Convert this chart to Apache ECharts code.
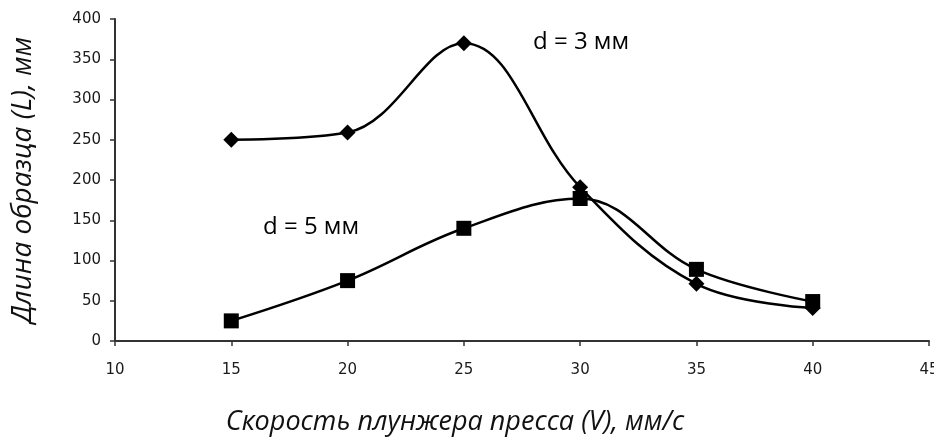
<!DOCTYPE html>
<html>
<head>
<meta charset="utf-8">
<script src="https://cdn.jsdelivr.net/npm/echarts@6/dist/echarts.min.js"></script>
<style>
  html, body { margin: 0; padding: 0; background: #fff; }
  #chart { width: 934px; height: 437px; }
</style>
</head>
<body>
<div id="chart"></div>
<script>
// Plunger speed, mm/s
const speeds = [15, 20, 25, 30, 35, 40];
// Specimen length, mm, for two diameters
const lengthD3 = [250, 259, 370, 191, 71, 41];
const lengthD5 = [25, 75, 140, 177, 89, 49];
const xTicks = [10, 15, 20, 25, 30, 35, 40, 45];
const yTicks = [0, 50, 100, 150, 200, 250, 300, 350, 400];

const seriesLabels = ['d = 3 мм', 'd = 5 мм'];
const xTitle = 'Скорость плунжера пресса (V), мм/с';
const yTitle = 'Длина образца (L), мм';

const chart = echarts.init(document.getElementById('chart'), null, { renderer: 'canvas' });

const tickFont = { fontFamily: 'DejaVu Sans', fontSize: 15, color: '#1a1a1a' };
const titleFont = 'Open Sans';

const pairs = (ys) => speeds.map((x, i) => [x, ys[i]]);

chart.setOption({
  animation: false,
  backgroundColor: '#fff',
  grid: { left: 115, right: 5, top: 19, bottom: 96, containLabel: false, outerBoundsMode: 'none' },
  xAxis: {
    type: 'value',
    min: xTicks[0],
    max: xTicks[xTicks.length - 1],
    interval: 5,
    axisLine: { show: true, lineStyle: { color: '#333', width: 2 } },
    axisTick: { show: true, inside: false, length: 5, lineStyle: { color: '#333', width: 1.5 } },
    axisLabel: { ...tickFont, margin: 22, hideOverlap: false, showMaxLabel: true, showMinLabel: true },
    splitLine: { show: false },
    name: xTitle,
    nameLocation: 'middle',
    nameGap: 68,
    // title sits left of the plot centre
    nameTextStyle: { fontFamily: titleFont, fontStyle: 'italic', fontSize: 27, color: '#111', padding: [0, 134, 0, 0] }
  },
  yAxis: {
    type: 'value',
    min: yTicks[0],
    max: yTicks[yTicks.length - 1],
    interval: 50,
    axisLine: { show: true, lineStyle: { color: '#333', width: 2 } },
    axisTick: { show: true, inside: false, length: 5, lineStyle: { color: '#333', width: 1.5 } },
    axisLabel: { ...tickFont, margin: 14 },
    splitLine: { show: false },
    name: yTitle,
    nameLocation: 'middle',
    nameGap: 78,
    nameRotate: 90,
    nameTextStyle: { fontFamily: titleFont, fontStyle: 'italic', fontSize: 28, color: '#111' }
  },
  series: [
    {
      name: seriesLabels[0],
      type: 'line',
      data: pairs(lengthD3),
      smooth: 0.38,
      symbol: 'diamond',
      symbolSize: 16,
      lineStyle: { color: '#000', width: 2.5 },
      itemStyle: { color: '#000' },
      z: 3
    },
    {
      name: seriesLabels[1],
      type: 'line',
      data: pairs(lengthD5),
      smooth: 0.38,
      symbol: 'rect',
      symbolSize: 15,
      lineStyle: { color: '#000', width: 2.5 },
      itemStyle: { color: '#000' },
      z: 4
    }
  ],
  graphic: [
    {
      type: 'text', x: 533, y: 42,
      style: { text: seriesLabels[0], font: '24px "Open Sans"', fill: '#000', align: 'left', verticalAlign: 'middle' }
    },
    {
      type: 'text', x: 263, y: 227,
      style: { text: seriesLabels[1], font: '24px "Open Sans"', fill: '#000', align: 'left', verticalAlign: 'middle' }
    }
  ]
});
</script>
</body>
</html>
